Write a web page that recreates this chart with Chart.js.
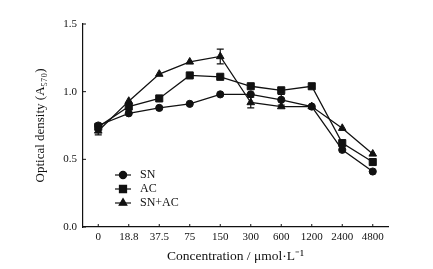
<!DOCTYPE html>
<html lang="en">
  <head>
    <meta charset="UTF-8" />
    <title>Optical density vs concentration</title>
    <script src="https://cdn.jsdelivr.net/npm/chart.js"></script>
    <style>
      body {
        margin: 0;
        background: #fff;
      }
    </style>
  </head>
  <body>
    <canvas id="odChart" width="433" height="269"></canvas>

    <script>
      // data
      const concentrations = ["0", "18.8", "37.5", "75", "150", "300", "600", "1200", "2400", "4800"];
      const snValues = [0.75, 0.84, 0.88, 0.91, 0.98, 0.98, 0.94, 0.89, 0.57, 0.41];
      const acValues = [0.74, 0.89, 0.95, 1.12, 1.11, 1.04, 1.01, 1.04, 0.62, 0.48];
      const snAcValues = [0.71, 0.93, 1.13, 1.22, 1.26, 0.92, 0.89, 0.89, 0.73, 0.54];
      const snErrors = [0, 0, 0, 0, 0, 0, 0.04, 0, 0, 0];
      const acErrors = [0, 0, 0, 0, 0, 0, 0, 0, 0, 0];
      const snAcErrors = [0.03, 0, 0, 0, 0.055, 0.04, 0, 0, 0, 0];
      const yTicks = [0, 0.5, 1.0, 1.5];

      const FONT = "'Liberation Serif', 'Times New Roman', serif";
      const INK = "#111";
      const MARKER_SIZE = { circle: 3.6, rect: 5, triangle: 4.4 };

      // error bars + inward tick marks + inset legend
      const extras = {
        id: "extras",
        afterDatasetsDraw(chart) {
          const ctx = chart.ctx;
          const x = chart.scales.x;
          const y = chart.scales.y;
          ctx.save();
          ctx.strokeStyle = INK;
          ctx.lineWidth = 1.2;
          chart.data.datasets.forEach((ds) => {
            ds.errors.forEach((e, i) => {
              if (!e) return;
              const px = x.getPixelForValue(i);
              const top = y.getPixelForValue(ds.data[i] + e);
              const bot = y.getPixelForValue(ds.data[i] - e);
              ctx.beginPath();
              ctx.moveTo(px, top);
              ctx.lineTo(px, bot);
              ctx.moveTo(px - 3.5, top);
              ctx.lineTo(px + 3.5, top);
              ctx.moveTo(px - 3.5, bot);
              ctx.lineTo(px + 3.5, bot);
              ctx.stroke();
            });
          });

          // inward ticks
          ctx.lineWidth = 1;
          x.ticks.forEach((t, i) => {
            const px = x.getPixelForTick(i);
            ctx.beginPath();
            ctx.moveTo(px, y.bottom);
            ctx.lineTo(px, y.bottom - 3);
            ctx.stroke();
          });
          y.ticks.forEach((t, i) => {
            const py = y.getPixelForTick(i);
            ctx.beginPath();
            ctx.moveTo(x.left, py);
            ctx.lineTo(x.left + 3, py);
            ctx.stroke();
          });

          // legend
          const lx = 115;
          let ly = 175;
          ctx.font = "12px " + FONT;
          ctx.fillStyle = INK;
          ctx.textBaseline = "middle";
          chart.data.datasets.forEach((ds) => {
            ctx.lineWidth = 1.2;
            ctx.beginPath();
            ctx.moveTo(lx, ly);
            ctx.lineTo(lx + 16, ly);
            ctx.stroke();
            Chart.helpers.drawPoint(
              ctx,
              { pointStyle: ds.pointStyle, radius: MARKER_SIZE[ds.pointStyle], borderWidth: 1 },
              lx + 8,
              ly
            );
            ctx.fillText(ds.label, lx + 25, ly);
            ly += 14;
          });
          ctx.restore();
        },
      };

      function series(label, values, errors, style) {
        return {
          label: label,
          data: values,
          errors: errors,
          borderColor: INK,
          backgroundColor: INK,
          borderWidth: 1.3,
          pointStyle: style,
          pointRadius: MARKER_SIZE[style],
          pointBorderWidth: 1,
          tension: 0,
        };
      }

      new Chart(document.getElementById("odChart"), {
        type: "line",
        data: {
          labels: concentrations,
          datasets: [
            series("SN", snValues, snErrors, "circle"),
            series("AC", acValues, acErrors, "rect"),
            series("SN+AC", snAcValues, snAcErrors, "triangle"),
          ],
        },
        plugins: [extras],
        options: {
          responsive: false,
          animation: false,
          devicePixelRatio: 1,
          layout: { padding: { top: 24, right: 45, bottom: 0, left: 0 } },
          plugins: { legend: { display: false }, tooltip: { enabled: false } },
          scales: {
            x: {
              offset: true,
              afterFit: (s) => {
                s.height = 42;
              },
              grid: { display: false, drawTicks: false },
              border: { color: INK, width: 1.2 },
              ticks: {
                color: INK,
                font: { family: FONT, size: 11 },
                padding: 4,
                maxRotation: 0,
                autoSkip: false,
              },
              title: {
                display: true,
                text: "Concentration / μmol·L⁻¹",
                color: INK,
                font: { family: FONT, size: 13.5 },
                padding: { top: 0, bottom: 4 },
              },
            },
            y: {
              min: 0,
              max: 1.5,
              afterFit: (s) => {
                s.width = 83;
              },
              afterBuildTicks: (s) => {
                s.ticks = yTicks.map((v) => ({ value: v }));
              },
              grid: { display: false, drawTicks: false },
              border: { color: INK, width: 1.2 },
              ticks: {
                color: INK,
                font: { family: FONT, size: 11 },
                padding: 6,
                callback: (v) => v.toFixed(1),
              },
              title: {
                display: true,
                text: "Optical density (A₅₇₀)",
                color: INK,
                font: { family: FONT, size: 13 },
                padding: { top: 33, bottom: 0 },
              },
            },
          },
        },
      });
    </script>
  </body>
</html>
